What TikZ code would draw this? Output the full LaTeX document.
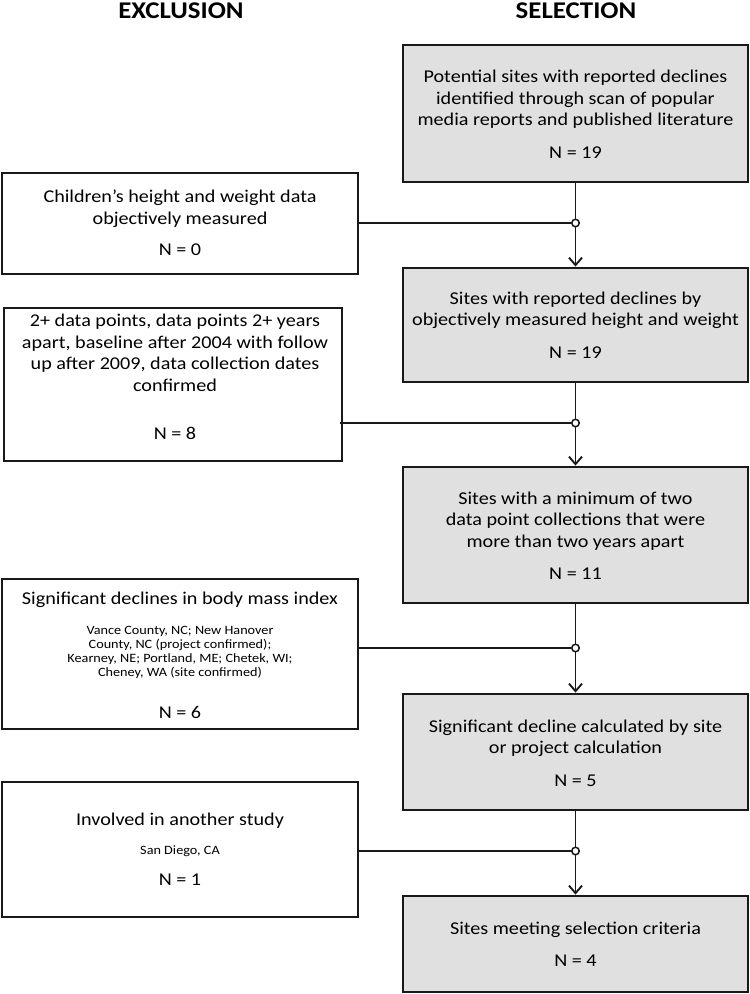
\documentclass[tikz,border=0pt]{standalone}
\usepackage{fontspec}
\setmainfont[FakeStretch=1.12]{Carlito}
\usetikzlibrary{arrows.meta}
\definecolor{boxgray}{RGB}{224,224,224}
\definecolor{edge}{RGB}{25,25,25}
\begin{document}
\begin{tikzpicture}[x=1pt,y=-1pt,
  rbox/.style={draw=edge, fill=boxgray, line width=2.8pt, minimum width=345pt, inner sep=0pt},
  lbox/.style={draw=edge, fill=white, line width=2.8pt, inner sep=0pt},
  txt/.style={align=center, font=\fontsize{18}{21.5}\selectfont, inner sep=0pt, text=black},
  head/.style={font=\fontsize{24}{28}\selectfont\bfseries, inner sep=0pt},
  conn/.style={draw=edge, line width=1.9pt},
  flow/.style={conn, -{Straight Barb[length=7.5pt,width=13pt,line width=1.9pt]}},
  jn/.style={circle, draw=edge, fill=white, line width=1.5pt, minimum size=7.5pt, inner sep=0pt}
]
\useasboundingbox (0,0) rectangle (750,994);
\newcommand{\smalltxt}[1]{{\fontsize{12.7}{14}\selectfont #1}}

% headers
\node[head] (hex) at (181,11) {EXCLUSION};
\node[head] (hsel) at (576,11) {SELECTION};

% selection boxes
\node[rbox, minimum height=137pt] (r1) at (575.5,113.5) {};
\node[rbox, minimum height=114pt] (r2) at (575.5,325) {};
\node[rbox, minimum height=136pt] (r3) at (575.5,535) {};
\node[rbox, minimum height=116pt] (r4) at (575.5,752) {};
\node[rbox, minimum height=96pt]  (r5) at (575.5,944) {};

% exclusion boxes
\node[lbox, minimum width=356pt, minimum height=101pt] (l1) at (180,223.5) {};
\node[lbox, minimum width=338pt, minimum height=153pt] (l2) at (173,384.5) {};
\node[lbox, minimum width=356pt, minimum height=150pt] (l3) at (180,654) {};
\node[lbox, minimum width=356pt, minimum height=135pt] (l4) at (180,849.5) {};

% texts
\node[txt] (r1t) at (575.5,114) {Potential sites with reported declines\\identified through scan of popular\\media reports and published literature\\[11pt]N = 19};
\node[txt] (r2t) at (575.5,325) {Sites with reported declines by\\objectively measured height and weight\\[11pt]N = 19};
\node[txt] (r3t) at (575.5,535.5) {Sites with a minimum of two\\data point collections that were\\more than two years apart\\[11pt]N = 11};
\node[txt] (r4t) at (575.5,753) {Significant decline calculated by site\\or project calculation\\[11pt]N = 5};
\node[txt] (r5t) at (575.5,944) {Sites meeting selection criteria\\[11pt]N = 4};

\node[txt] (l1t) at (180,223) {Children’s height and weight data\\objectively measured\\[10pt]N = 0};
\node[txt] (l2t) at (175,377) {2+ data points, data points 2+ years\\apart, baseline after 2004 with follow\\up after 2009, data collection dates\\confirmed\\[27pt]N = 8};
\node[txt] (l3t) at (180,655.5) {Significant declines in body mass index\\[8pt]
  \smalltxt{Vance County, NC; New Hanover}\\[-7.5pt]
  \smalltxt{County, NC (project confirmed);}\\[-7.5pt]
  \smalltxt{Kearney, NE; Portland, ME; Chetek, WI;}\\[-7.5pt]
  \smalltxt{Cheney, WA (site confirmed)}\\[21pt]N = 6};
\node[txt] (l4t) at (180,849.5) {Involved in another study\\[7pt]\smalltxt{San Diego, CA}\\[10pt]N = 1};

% junction coordinates
\coordinate (j1) at (575.5,223);
\coordinate (j2) at (575.5,423);
\coordinate (j3) at (575.5,648);
\coordinate (j4) at (575.5,851);

% main flow
\draw[flow] (r1) -- (r2);
\draw[flow] (r2) -- (r3);
\draw[flow] (r3) -- (r4);
\draw[flow] (r4) -- (r5);

% exclusion connectors
\draw[conn] (l1.east |- j1) -- (j1);
\draw[conn] ([xshift=-3pt]l2.east |- j2) -- (j2);
\draw[conn] (l3.east |- j3) -- (j3);
\draw[conn] (l4.east |- j4) -- (j4);

\node[jn] (c1) at (j1) {};
\node[jn] (c2) at (j2) {};
\node[jn] (c3) at (j3) {};
\node[jn] (c4) at (j4) {};
\end{tikzpicture}
\end{document}
